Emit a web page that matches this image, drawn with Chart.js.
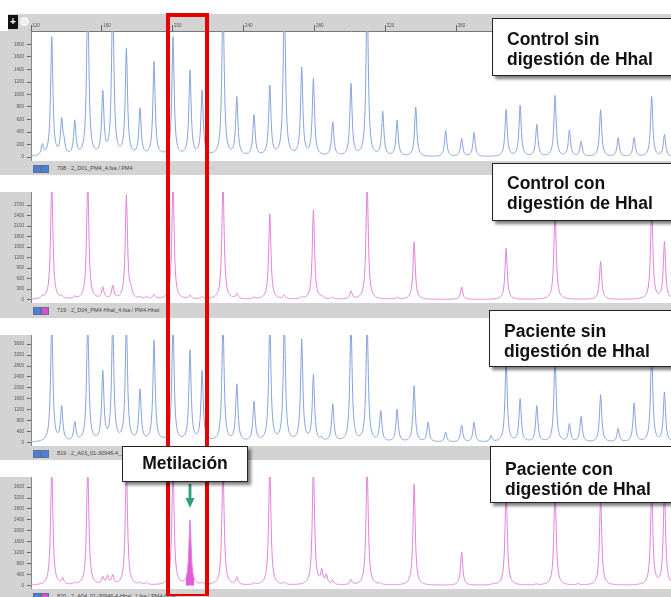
<!DOCTYPE html>
<html>
<head>
<meta charset="utf-8">
<script src="https://cdn.jsdelivr.net/npm/chart.js@4.4.1/dist/chart.umd.min.js"></script>
<style>
  body { margin: 0; background: #fff; }
  #wrap { position: relative; width: 671px; height: 597px; overflow: hidden; background: #fff; }
  canvas { position: absolute; left: 0; }
  .sep { position: absolute; left: 0; width: 671px; background: #d3d3d3; font: 5.5px Arial, "Liberation Sans", sans-serif; color: #444; }
  .sep span { position: absolute; left: 57px; top: 4px; white-space: nowrap; }
  .ico { position: absolute; top: 4px; width: 6px; height: 6px; border: 1px solid #5a6f9a; }
  .note { position: absolute; background: #fff; border: 1.5px solid #222; box-sizing: border-box;
    box-shadow: 3px 3px 3px rgba(0,0,0,0.5); font: bold 17.5px "Liberation Sans", Arial, sans-serif;
    color: #111; line-height: 20px; padding: 10px 0 0 14px; white-space: nowrap; }
</style>
</head>
<body>
<div id="wrap">
  <div style="position:absolute;left:8px;top:14px;width:23px;height:17px;background:#d3d3d3"></div>
  <div style="position:absolute;left:8px;top:15px;width:10px;height:14px;background:#111;color:#fff;font:bold 10px Arial;text-align:center;line-height:14px">+</div>
  <div style="position:absolute;left:20px;top:17px;width:7px;height:7px;border:1.5px solid #fff;border-radius:50%;background:#eee"></div>

  <canvas id="c1" width="671" height="147" style="top:14px"></canvas>
  <div class="sep" id="s1" style="top:161px;height:14px"></div>
  <canvas id="c2" width="671" height="128" style="top:175px"></canvas>
  <div class="sep" id="s2" style="top:303px;height:15px"></div>
  <canvas id="c3" width="671" height="128" style="top:318px"></canvas>
  <div class="sep" id="s3" style="top:446px;height:14px"></div>
  <canvas id="c4" width="671" height="129" style="top:460px"></canvas>
  <div class="sep" id="s4" style="top:589px;height:8px"></div>

  <!-- red frame around the HhaI site -->
  <div style="position:absolute;left:166px;top:13px;width:43px;height:583px;box-sizing:border-box;border:4px solid #e60000;border-bottom-width:2px"></div>

  <svg style="position:absolute;left:184px;top:484px" width="12" height="26">
    <rect x="4.6" y="0" width="2.8" height="16" fill="#2f9e7a"/>
    <polygon points="1.5,14 10.5,14 6,24" fill="#2f9e7a"/>
  </svg>

  <div class="note" style="left:492px;top:18px;width:200px;height:58px">Control sin<br>digestión de Hhal</div>
  <div class="note" style="left:492px;top:163px;width:200px;height:58px;padding-top:9px">Control con<br>digestión de Hhal</div>
  <div class="note" style="left:489px;top:310px;width:200px;height:57px">Paciente sin<br>digestión de Hhal</div>
  <div class="note" style="left:490px;top:446px;width:200px;height:57px;padding-top:12px">Paciente con<br>digestión de Hhal</div>
  <div class="note" style="left:122px;top:446px;width:126px;height:36px;padding:6px 0 0 0;text-align:center">Metilación</div>
</div>

<script>
// size axis (bp)
const sizeTicks = [120, 160, 200, 240, 280, 320, 360, 400, 440, 480];

// panel 1 - control, undigested (blue)
const p1Size = [126.4, 131.7, 137.3, 138.6, 144.7, 152.0, 160.5, 166.1, 173.8, 181.5, 189.4, 200.1, 209.7, 216.5, 228.3, 236.1, 245.8, 254.7, 262.9, 272.7, 279.3, 290.2, 300.5, 309.6, 318.4, 326.5, 337.0, 353.9, 362.9, 369.9, 388.0, 395.9, 405.3, 415.6, 423.7, 430.3, 441.3, 451.2, 460.2, 470.1, 477.3];
const p1Height = [170, 1900, 540, 160, 545, 2600, 990, 2600, 1700, 740, 1500, 1900, 1360, 1030, 2600, 930, 650, 1115, 2600, 1400, 1230, 540, 1150, 2600, 700, 570, 790, 415, 285, 380, 750, 815, 510, 975, 415, 240, 750, 300, 300, 960, 350];
const p1Ticks = [0, 200, 400, 600, 800, 1000, 1200, 1400, 1600, 1800];

// panel 2 - control, HhaI digested (pink)
const p2Size = [126.4, 131.7, 137.3, 144.7, 152.0, 160.5, 166.1, 173.8, 176.4, 181.5, 185.3, 189.4, 200.1, 209.7, 216.5, 228.3, 236.1, 245.8, 254.7, 262.9, 272.7, 279.3, 284.0, 290.2, 300.5, 309.6, 326.5, 336.1, 362.9, 388.0, 415.6, 441.3, 470.1, 477.3];
const p2Height = [60, 3400, 60, 50, 3400, 320, 365, 2970, 200, 50, 60, 120, 3400, 100, 60, 3400, 140, 50, 2440, 100, 50, 2550, 60, 50, 220, 3400, 50, 1645, 350, 1460, 2600, 1090, 2700, 1635];
const p2Ticks = [0, 300, 600, 900, 1200, 1500, 1800, 2100, 2400, 2700];

// panel 3 - patient, undigested (blue)
const p3Size = [131.7, 137.3, 144.7, 152.0, 160.5, 166.1, 173.8, 181.5, 189.4, 200.1, 209.7, 216.5, 228.3, 236.1, 245.8, 254.7, 262.9, 272.7, 279.3, 284.0, 290.2, 300.5, 309.6, 317.3, 326.5, 336.1, 344.0, 353.9, 362.9, 369.9, 379.5, 388.0, 395.9, 405.3, 415.6, 423.7, 430.3, 441.3, 451.2, 460.2, 470.1, 477.3];
const p3Height = [4400, 1250, 680, 4400, 2500, 4400, 4400, 1860, 3680, 4400, 3320, 2550, 4400, 2075, 1440, 4400, 4400, 3715, 2410, 100, 1355, 4400, 4400, 1100, 1175, 2050, 720, 360, 615, 720, 220, 3000, 1565, 1310, 3200, 645, 930, 1735, 485, 1420, 3300, 1810];
const p3Ticks = [0, 400, 800, 1200, 1600, 2000, 2400, 2800, 3200, 3600];

// panel 4 - patient, HhaI digested (pink)
const p4Size = [131.7, 137.9, 144.7, 152.0, 160.5, 163.2, 166.1, 173.8, 181.5, 185.3, 200.1, 209.7, 216.5, 228.3, 236.1, 245.8, 254.7, 262.9, 279.3, 284.0, 286.6, 290.2, 300.5, 309.6, 317.0, 336.1, 362.9, 380.7, 388.0, 405.0, 415.6, 428.6, 441.3, 470.1, 477.3];
const p4Height = [4400, 220, 60, 4400, 260, 300, 320, 4400, 80, 80, 4400, 2360, 60, 4400, 265, 60, 4400, 80, 4400, 475, 330, 150, 180, 4400, 60, 3700, 1215, 50, 3600, 40, 3600, 50, 3200, 3600, 3500];
const p4Ticks = [0, 400, 800, 1200, 1600, 2000, 2400, 2800, 3200, 3600];
const p4Methylated = [209.7];

const sepLabels = [
  '708 \u00b7 2_D01_PM4_4.fsa / PM4',
  '719 \u00b7 2_D04_PM4-HhaI_4.fsa / PM4-HhaI',
  '819 \u00b7 2_A03_01-30946-4_1.fsa / PM4',
  '820 \u00b7 2_A04_01-30946-4-HhaI_1.fsa / PM4-HhaI',
];
const sepIcons = [['#4d7fd6', '#4d7fd6'], ['#4d7fd6', '#d94fd0'], ['#4d7fd6', '#4d7fd6'], ['#4d7fd6', '#d94fd0']];

const BLUE = '#86a4dc';
const PINK = '#e283db';
const GREY = '#d3d3d3';

/**
 * draws the electropherogram trace: every peak from the dataset is
 * rendered as a narrow spike through the chart's own x / y scales
 */
const tracePlugin = {
  id: 'trace',
  afterDatasetsDraw(chart) {
    const { ctx, chartArea: a, scales } = chart;
    const xs = scales.x;
    const ys = scales.y;
    const ds = chart.data.datasets[0];
    const pts = ds.data;
    const w2 = 0.75 * 0.75;
    const level = (v) => pts.reduce((s, p) => s + (p.y * w2) / (w2 + (v - p.x) * (v - p.x)), 0);

    let vals = [];
    for (let px = a.left; px <= a.right; px += 0.5) vals.push(xs.getValueForPixel(px));
    pts.forEach((p) => vals.push(p.x));
    vals.sort((m, n) => m - n);

    ctx.save();
    ctx.beginPath();
    ctx.rect(a.left, a.top, a.right - a.left, a.bottom - a.top);
    ctx.clip();

    // filled peaks (methylated fragment)
    (ds.filled || []).forEach((c) => {
      const part = vals.filter((v) => v >= c - 2.4 && v <= c + 2.4);
      ctx.beginPath();
      ctx.moveTo(xs.getPixelForValue(part[0]), ys.getPixelForValue(0));
      part.forEach((v) => ctx.lineTo(xs.getPixelForValue(v), ys.getPixelForValue(level(v))));
      ctx.lineTo(xs.getPixelForValue(part[part.length - 1]), ys.getPixelForValue(0));
      ctx.closePath();
      ctx.fillStyle = '#e25ad8';
      ctx.fill();
    });

    ctx.beginPath();
    vals.forEach((v, i) => {
      const px = xs.getPixelForValue(v);
      const py = ys.getPixelForValue(level(v));
      i ? ctx.lineTo(px, py) : ctx.moveTo(px, py);
    });
    ctx.strokeStyle = ds.traceColor;
    ctx.lineWidth = 1;
    ctx.stroke();
    ctx.restore();
  },
};

const makePanel = (id, sizes, heights, ticks, yMin, yMax, color, ruler, filled) => {
  return new Chart(document.getElementById(id), {
    type: 'scatter',
    data: {
      datasets: [
        {
          data: sizes.map((s, i) => ({ x: s, y: heights[i] })),
          pointRadius: 0,
          showLine: false,
          traceColor: color,
          filled: filled,
        },
      ],
    },
    options: {
      responsive: false,
      animation: false,
      events: [],
      layout: { padding: 0 },
      plugins: { legend: { display: false }, tooltip: { enabled: false } },
      scales: {
        x: {
          type: 'linear',
          min: 120,
          max: 481,
          position: 'top',
          display: ruler,
          backgroundColor: GREY,
          border: { display: true, color: '#777' },
          grid: { drawOnChartArea: false, tickLength: 6, color: '#666' },
          ticks: {
            align: 'start',
            padding: -3,
            color: '#555',
            font: { size: 4.5, family: 'Arial' },
            callback: (v) => ' ' + v,
          },
          afterBuildTicks: (s) => {
            s.ticks = sizeTicks.map((v) => ({ value: v }));
          },
          afterFit: (s) => {
            s.height = 17;
            s.paddingLeft = 0;
            s.paddingRight = 0;
          },
        },
        y: {
          min: yMin,
          max: yMax,
          backgroundColor: GREY,
          border: { display: true, color: '#888' },
          grid: { drawOnChartArea: false, tickLength: 4, color: '#666' },
          ticks: {
            padding: 3,
            color: '#555',
            font: { size: 4.5, family: 'Arial' },
            callback: (v) => String(v),
          },
          afterBuildTicks: (s) => {
            s.ticks = ticks.map((v) => ({ value: v }));
          },
          afterFit: (s) => {
            s.width = 31;
            s.paddingTop = 0;
            s.paddingBottom = 0;
          },
        },
      },
    },
    plugins: [tracePlugin],
  });
};

makePanel('c1', p1Size, p1Height, p1Ticks, -64, 2016, BLUE, true, []);
makePanel('c2', p2Size, p2Height, p2Ticks, -99, 3075, PINK, false, []);
makePanel('c3', p3Size, p3Height, p3Ticks, -127, 3937, BLUE, false, []);
makePanel('c4', p4Size, p4Height, p4Ticks, -127, 3969, PINK, false, p4Methylated);

// channel strips between the panels
sepLabels.forEach((text, i) => {
  const sep = document.getElementById('s' + (i + 1));
  sep.innerHTML =
    `<div class="ico" style="left:33px;background:${sepIcons[i][0]}"></div>` +
    `<div class="ico" style="left:41px;background:${sepIcons[i][1]}"></div>` +
    `<span>${text}</span>`;
});
</script>
</body>
</html>
